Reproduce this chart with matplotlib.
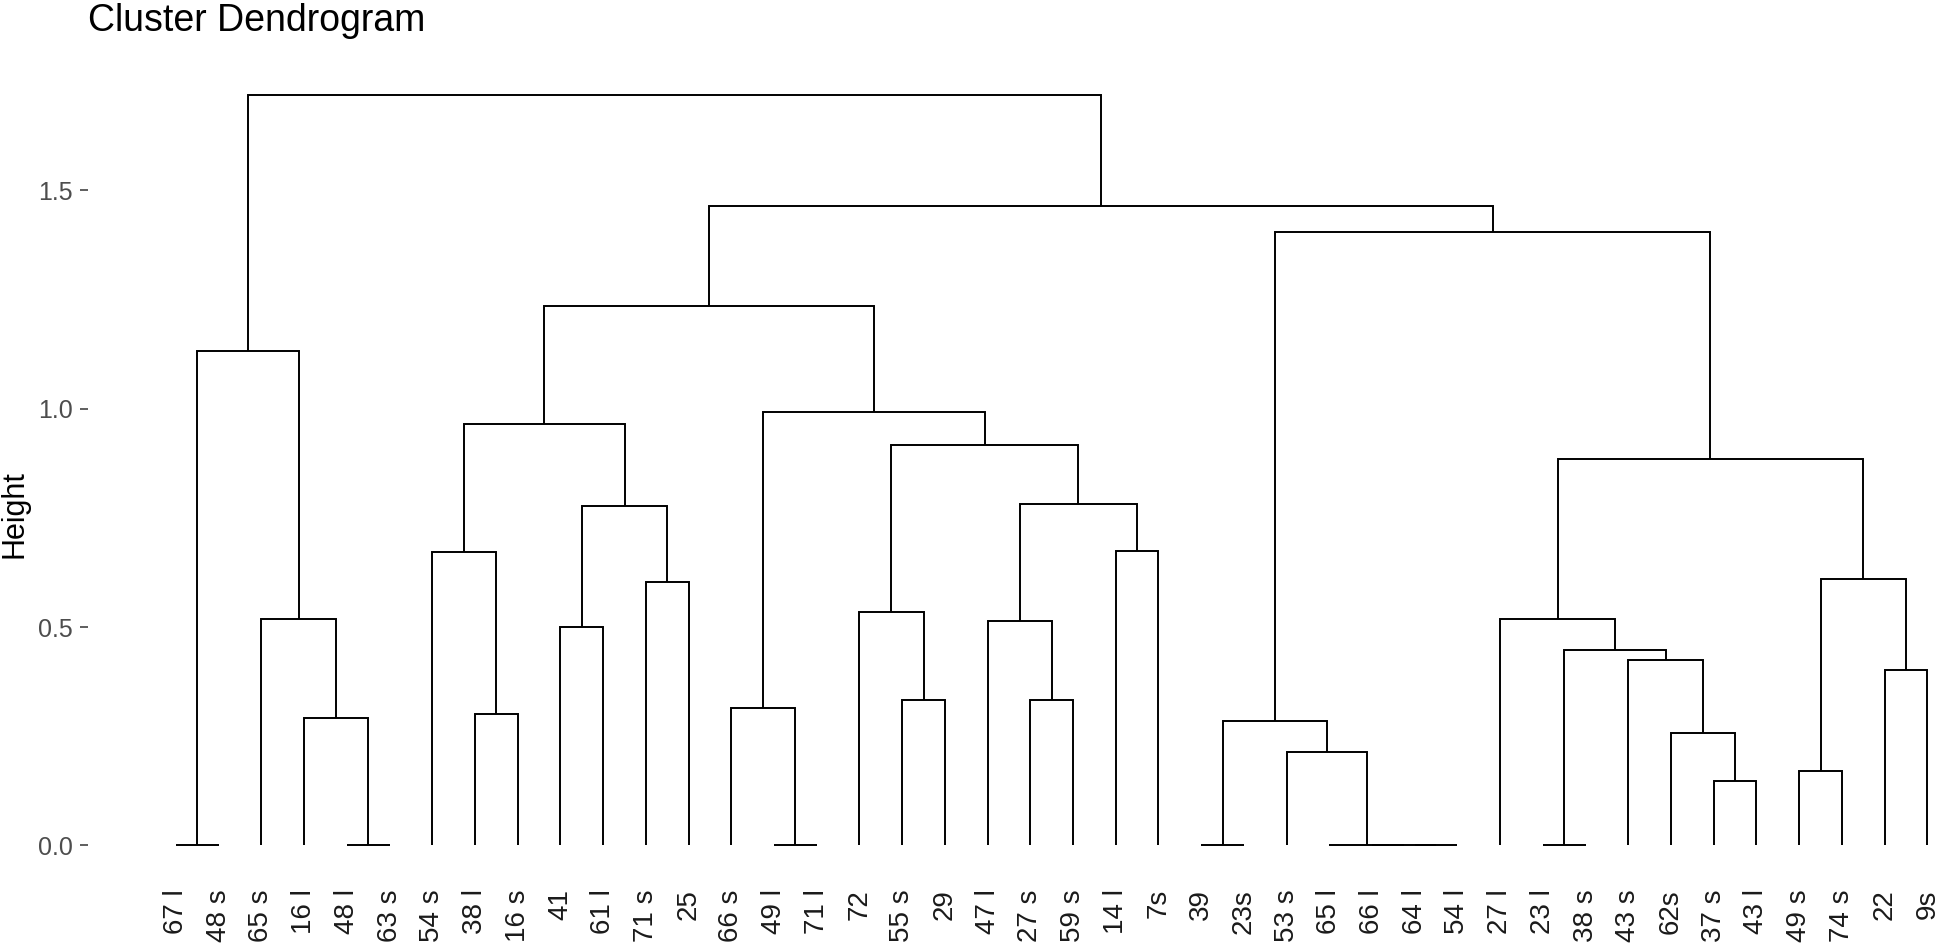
import matplotlib
matplotlib.use("Agg")
import matplotlib.pyplot as plt

plt.rcParams['font.family'] = ['Liberation Sans', 'DejaVu Sans']

# leaf labels, in the order they are drawn left to right
labels = ['67 l', '48 s', '65 s', '16 l', '48 l', '63 s', '54 s', '38 l', '16 s',
          '41', '61 l', '71 s', '25', '66 s', '49 l', '71 l', '72', '55 s', '29',
          '47 l', '27 s', '59 s', '14 l', '7s', '39', '23s', '53 s', '65 l', '66 l',
          '64 l', '54 l', '27 l', '23 l', '38 s', '43 s', '62s', '37 s', '43 l',
          '49 s', '74 s', '22', '9s']

# hclust-style merge table: negative = leaf (1-based), positive = earlier merge
merge_a = [-1, -5, -4, -3, 1, -8, -7, -10, -12, 8, 7, -15, -14, -18, -17, -21,
           -20, -23, 17, 15, 13, 11, -25, -30, -29, -28, -27, 23, -33, -37, -36,
           -35, 29, -32, -39, -41, 35, 34, 28, 22, 5]
merge_b = [-2, -6, 2, 3, 4, -9, 6, -11, -13, 9, 10, -16, 12, -19, 14, -22,
           16, -24, 18, 19, 20, 21, -26, -31, 24, 25, 26, 27, -34, -38, 30,
           31, 32, 33, -40, -42, 36, 37, 38, 39, 40]
height = [0.0, 0.0, 0.292, 0.518, 1.132, 0.300, 0.671, 0.501, 0.603, 0.776,
          0.965, 0.0, 0.314, 0.334, 0.535, 0.334, 0.514, 0.673, 0.781, 0.917,
          0.993, 1.234, 0.0, 0.0, 0.0, 0.0, 0.215, 0.286, 0.0, 0.147, 0.258,
          0.425, 0.447, 0.518, 0.170, 0.402, 0.609, 0.885, 1.405, 1.463, 1.719]

W, H = 1944, 951
fig = plt.figure(figsize=(W / 100, H / 100), dpi=100)

# panel placement (pixels from the left / top of the picture)
left_px, right_px, top_px, bottom_px = 88, 1944, 57, 883
ax = fig.add_axes([left_px / W, 1 - bottom_px / H,
                   (right_px - left_px) / W, (bottom_px - top_px) / H])

n = len(labels)
node_x = []
node_h = []


def pos(ref):
    if ref < 0:
        return -ref, 0.0
    return node_x[ref - 1], node_h[ref - 1]


for a, b, h in zip(merge_a, merge_b, height):
    xa, ha = pos(a)
    xb, hb = pos(b)
    ax.plot([xa, xa, xb, xb], [ha, h, h, hb], color='black', lw=1.4,
            solid_joinstyle='miter', solid_capstyle='butt')
    node_x.append((xa + xb) / 2)
    node_h.append(h)

ax.set_xlim(-1.06, 42.39)
ax.set_ylim(-0.086, 1.805)

for s in ax.spines.values():
    s.set_visible(False)

ax.set_xticks(range(1, n + 1))
ax.set_xticklabels(labels, rotation=90, fontsize=20, color='#1a1a1a')
ax.tick_params(axis='x', length=0, pad=4.5)

ax.set_yticks([0, 0.5, 1.0, 1.5])
ax.set_yticklabels(['0.0', '0.5', '1.0', '1.5'], fontsize=18, color='#4d4d4d')
ax.tick_params(axis='y', length=5.8, width=1.1, color='#333333', pad=5)

fig.text(15 / W, 1 - 514 / H, 'Height', rotation=90, fontsize=22,
         ha='center', va='center', color='black')
fig.text(88 / W, 1 - 31 / H, 'Cluster Dendrogram', fontsize=27,
         ha='left', va='baseline', color='black')

plt.savefig('out.png', dpi=100)
